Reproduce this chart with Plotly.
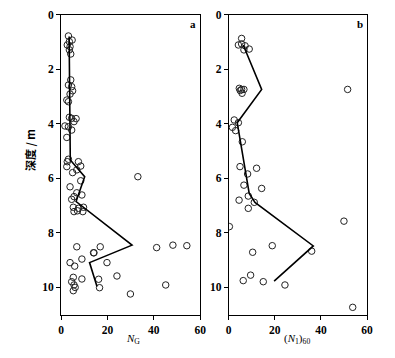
import plotly.graph_objects as go

# Panel a: N_G scatter
a_x = [3.2, 4.8, 3.6, 2.7, 3.9, 3.6, 4.2, 3.2, 4.2, 4.6, 5.0, 3.9, 2.5, 3.2,
       3.6, 4.6, 6.5, 5.6, 1.7, 3.2, 4.6, 2.5, 3.2, 2.7, 7.5, 8.5, 2.5, 5.0, 6.8,
       8.5, 33.1, 3.9, 6.8, 9.0, 5.6, 4.6, 5.3, 7.5, 9.7, 5.6, 7.1, 9.4,
       6.8, 16.9, 14.0, 14.2, 41.2, 48.2, 54.2, 3.9, 9.0, 5.9, 19.8,
       5.3, 9.0, 16.2, 24.1, 4.6, 5.6, 6.1, 16.6, 45.1, 5.3, 29.9]
a_d = [0.78, 0.93, 0.99, 1.11, 1.17, 1.29, 1.44, 2.58, 2.39, 2.64, 2.79, 2.91, 3.13, 3.19,
       3.76, 3.80, 3.81, 3.92, 4.08, 4.11, 4.23, 4.50, 5.30, 5.39, 5.39, 5.55, 5.57, 5.79, 5.69,
       6.09, 5.94, 6.31, 6.53, 6.61, 6.67, 6.77, 7.06, 7.10, 7.06, 7.22, 7.19, 7.22,
       8.51, 8.51, 8.73, 8.73, 8.54, 8.45, 8.47, 9.09, 8.96, 9.22, 9.09,
       9.63, 9.69, 9.70, 9.58, 9.79, 9.91, 10.0, 10.01, 9.91, 10.12, 10.24]
a_line_x = [3.5, 3.7, 4.0, 10.2, 6.5, 30.6, 12.3, 15.5]
a_line_d = [0.8, 2.7, 5.33, 5.94, 6.85, 8.45, 9.09, 9.97]

# Panel b: (N1)60 scatter
b_x = [5.6, 4.2, 5.6, 7.1, 8.9, 6.6, 4.6, 5.6, 6.6, 5.0, 5.8, 51.6,
       2.4, 4.2, 1.6, 3.0, 5.9, 4.9, 12.1, 8.2, 6.6, 14.3, 8.5, 4.5, 11.1, 8.5,
       50.0, 0.3, 18.9, 36.0, 10.4, 9.5, 6.3, 15.0, 24.4, 53.8]
b_d = [0.87, 1.11, 1.07, 1.14, 1.26, 1.29, 2.70, 2.74, 2.74, 2.78, 2.88, 2.74,
       3.86, 3.96, 4.13, 4.25, 4.66, 5.57, 5.63, 5.84, 6.25, 6.37, 6.65, 6.80, 6.88, 7.10,
       7.57, 7.77, 8.47, 8.67, 8.71, 9.55, 9.75, 9.79, 9.91, 10.73]
b_line_x = [6.3, 14.3, 3.7, 8.9, 11.4, 36.7, 19.7]
b_line_d = [1.11, 2.74, 3.96, 6.55, 6.88, 8.48, 9.77]

x_ticks = [0, 20, 40, 60]
y_ticks = [0, 2, 4, 6, 8, 10]

OFF = 8  # page body margin
W, H = 395 - OFF, 358 - OFF


def px(x):
    return (x - OFF) / W


def py(y):
    return 1 - (y - OFF) / H


fig = go.Figure()
marker = dict(symbol="circle-open", size=6.5, color="#222222", line=dict(width=1))
fig.add_trace(go.Scatter(x=a_x, y=a_d, mode="markers", marker=marker, xaxis="x", yaxis="y", showlegend=False))
fig.add_trace(go.Scatter(x=a_line_x, y=a_line_d, mode="lines", line=dict(color="black", width=1.6), xaxis="x", yaxis="y", showlegend=False))
fig.add_trace(go.Scatter(x=b_x, y=b_d, mode="markers", marker=marker, xaxis="x2", yaxis="y2", showlegend=False))
fig.add_trace(go.Scatter(x=b_line_x, y=b_line_d, mode="lines", line=dict(color="black", width=1.6), xaxis="x2", yaxis="y2", showlegend=False))

tickfont = dict(family="Liberation Serif", size=11.5, color="black", weight="bold")
ydom = [py(314.7), py(14.7)]
common_x = dict(range=[0, 60], tickvals=x_ticks, ticks="outside", ticklen=4, tickcolor="black",
                showline=True, linecolor="black", linewidth=1, mirror=True, showgrid=False,
                zeroline=False, tickfont=tickfont, automargin=False)
common_y = dict(range=[11, 0], tickvals=y_ticks, ticks="outside", ticklen=4, tickcolor="black",
                showline=True, linecolor="black", linewidth=1, mirror=True, showgrid=False,
                zeroline=False, tickfont=tickfont, automargin=False, domain=ydom)

ann_font = dict(family="Liberation Serif", size=11, color="black")


def ann(text, x, y, font=ann_font, **kw):
    return dict(text=text, x=px(x), y=py(y), xref="paper", yref="paper", showarrow=False,
                xanchor="center", yanchor="middle", font=font, **kw)


fig.update_layout(
    width=W, height=H,
    margin=dict(l=0, r=0, t=0, b=0),
    paper_bgcolor="white", plot_bgcolor="white",
    xaxis=dict(common_x, domain=[px(61), px(200.3)], anchor="y"),
    yaxis=dict(common_y, anchor="x"),
    xaxis2=dict(common_x, domain=[px(228.7), px(367)], anchor="y2"),
    yaxis2=dict(common_y, anchor="x2"),
    annotations=[
        ann("<b>a</b>", 192.7, 24),
        ann("<b>b</b>", 360, 24),
        ann("<i>N</i><sub>G</sub>", 133, 339),
        ann("(<i>N</i><sub>1</sub>)<sub>60</sub>", 297, 339),
        ann("深度 / m", 30, 150, font=dict(family="Noto Sans CJK SC", size=11, color="black", weight="bold"), textangle=-90),
    ],
)

fig.write_html("out.html")
